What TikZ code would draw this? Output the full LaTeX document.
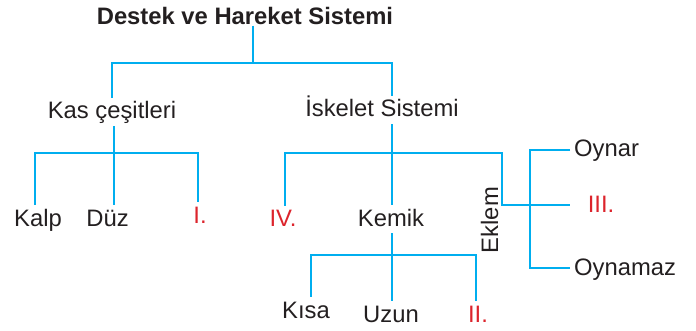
\documentclass[tikz,border=0pt]{standalone}
\usepackage{fontspec}
\setmainfont{Liberation Sans}
\usepackage{tikz}
\usetikzlibrary{positioning}
\definecolor{celeste}{RGB}{0,174,239}
\definecolor{rojo}{RGB}{220,36,44}
\definecolor{negro}{RGB}{35,31,32}
\tikzstyle{rama} = [draw=celeste, line width=2.9pt]
\tikzstyle{etiqueta} = [anchor=base, inner xsep=1pt, inner ysep=4pt, text height=17pt, text depth=3pt, text=negro, font=\fontsize{23.8}{28}\selectfont]
\tikzstyle{hueco} = [etiqueta, text=rojo]
\tikzstyle{hoja} = [etiqueta, anchor=base west, inner xsep=4pt]
\tikzstyle{titulo} = [etiqueta, inner ysep=1pt, text depth=0pt, font=\fontsize{23.8}{28}\selectfont\bfseries]

\begin{document}
\begin{tikzpicture}[x=1pt, y=-1pt]
	\useasboundingbox (0,0) rectangle (696,331);
	\node[titulo] (raiz) at (245,24.5) {Destek ve Hareket Sistemi};
	\node[etiqueta] (kas) at (112,119) {Kas çeşitleri};
	\node[etiqueta] (iskelet) at (382,117) {İskelet Sistemi};
	\node[etiqueta] (kalp) at (38,226) {Kalp};
	\node[etiqueta] (duz) at (107.5,226) {Düz};
	\node[hueco] (bir) at (200,223) {I.};
	\node[hueco] (dort) at (283,227) {IV.};
	\node[etiqueta] (kemik) at (391,226) {Kemik};
	\node[etiqueta, rotate=90] (eklem) at (498,220) {Eklem};
	\node[hoja] (oynar) at (570,157) {Oynar};
	\node[hueco] (uc) at (601,213) {III.};
	\node[hoja] (oynamaz) at (570,275) {Oynamaz};
	\node[etiqueta] (kisa) at (306,318) {Kısa};
	\node[etiqueta] (uzun) at (391,322) {Uzun};
	\node[hueco] (iki) at (478,322) {II.};

	\coordinate (t0) at (253,63);
	\coordinate (t1) at (392,63);
	\coordinate (k0) at (114,153);
	\coordinate (k1) at (35,153);
	\coordinate (k3) at (198,153);
	\coordinate (s0) at (392,153);
	\coordinate (s1) at (285,153);
	\coordinate (e0) at (502,205);
	\coordinate (e1) at (530,205);
	\coordinate (e2) at (570,205);
	\coordinate (m0) at (392,255);
	\coordinate (m1) at (311,255);
	\coordinate (m3) at (476,255);

	\draw[rama] (t0 |- raiz.south) -- (t0);
	\draw[rama] (kas.north) |- (t1) -- (t1 |- iskelet.north);
	\draw[rama] (k0 |- kas.south) -- (k0);
	\draw[rama] (k1 |- kalp.north) -- (k1) -- (k3) -- (k3 |- bir.north);
	\draw[rama] (k0) -- (k0 |- duz.north);
	\draw[rama] (s0 |- iskelet.south) -- (s0);
	\draw[rama] (s1 |- dort.north) -- (s1) -| (e0) -- (e2);
	\draw[rama] (s0) -- (s0 |- kemik.north);
	\draw[rama] (oynar.west) -| (e1) |- (oynamaz.west);
	\draw[rama] (m0 |- kemik.south) -- (m0);
	\draw[rama] (m1 |- kisa.north) -- (m1) -- (m3) -- (m3 |- iki.north);
	\draw[rama] (m0) -- (m0 |- uzun.north);
\end{tikzpicture}
\end{document}
